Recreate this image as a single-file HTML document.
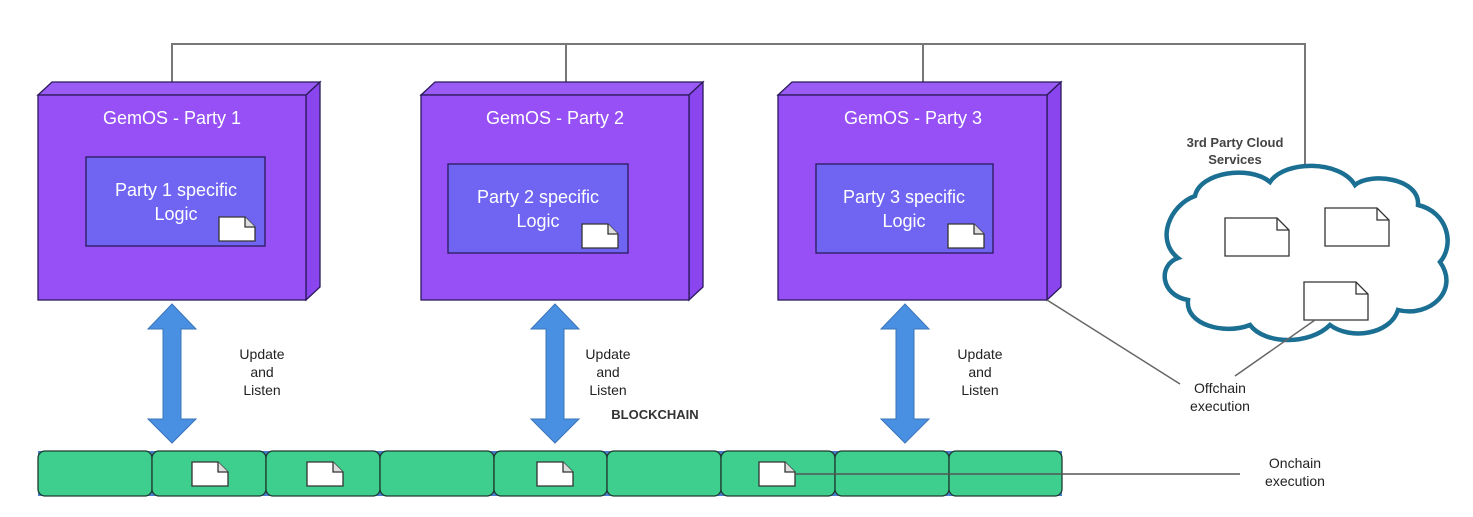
<!DOCTYPE html>
<html><head><meta charset="utf-8"><style>
html,body{margin:0;padding:0;background:#fff;width:1473px;height:517px;overflow:hidden}
svg{display:block}
text{font-family:"Liberation Sans",Arial,sans-serif}
</style></head><body>
<svg width="1473" height="517" viewBox="0 0 1473 517" xmlns="http://www.w3.org/2000/svg">
<defs>
<g id="doc"><path d="M0,0 H26 L36,10 V24 H0 Z" fill="#fff" stroke="#333" stroke-width="1.3"/><path d="M26,0 V10 H36" fill="#ddd" stroke="#333" stroke-width="1.3"/></g>
<g id="cdoc"><path d="M0,0 H52 L64,12 V38 H0 Z" fill="#fff" stroke="#333" stroke-width="1.3"/><path d="M52,0 V12 H64" fill="none" stroke="#333" stroke-width="1.3"/></g>
<path id="arr" d="M0,0 L24,25 H9 V115 H24 L0,139 L-24,115 H-9 V25 H-24 Z" fill="#4a90e2" stroke="#3a74b8" stroke-width="1"/>
</defs>
<!-- top connector -->
<path d="M172,82 V44 H1305 V170 M566,44 V82 M923,44 V82" fill="none" stroke="#777" stroke-width="2"/>
<!-- boxes -->
<g stroke="#2a1a5a" stroke-width="1.3">
<path d="M38,95 L52,82 H320 L306,95 Z" fill="#9b5cf5"/>
<path d="M306,95 L320,82 V287 L306,300 Z" fill="#8a45ee"/>
<rect x="38" y="95" width="268" height="205" fill="#9650f5"/>
<rect x="86" y="157" width="179" height="89" fill="#7065f2"/>
<path d="M421,95 L435,82 H703 L689,95 Z" fill="#9b5cf5"/>
<path d="M689,95 L703,82 V287 L689,300 Z" fill="#8a45ee"/>
<rect x="421" y="95" width="268" height="205" fill="#9650f5"/>
<rect x="448" y="164" width="180" height="89" fill="#7065f2"/>
<path d="M778,95 L792,82 H1061 L1047,95 Z" fill="#9b5cf5"/>
<path d="M1047,95 L1061,82 V287 L1047,300 Z" fill="#8a45ee"/>
<rect x="778" y="95" width="269" height="205" fill="#9650f5"/>
<rect x="816" y="164" width="177" height="89" fill="#7065f2"/>
</g>
<g fill="#fff" font-size="18" text-anchor="middle">
<text x="172" y="124">GemOS - Party 1</text>
<text x="555" y="124">GemOS - Party 2</text>
<text x="913" y="124">GemOS - Party 3</text>
<text x="176" y="196">Party 1 specific</text><text x="176" y="220">Logic</text>
<text x="538" y="203">Party 2 specific</text><text x="538" y="227">Logic</text>
<text x="904" y="203">Party 3 specific</text><text x="904" y="227">Logic</text>
</g>
<use href="#doc" x="219" y="217"/>
<use href="#doc" x="582" y="224"/>
<use href="#doc" x="948" y="224"/>
<!-- arrows -->
<use href="#arr" x="172" y="304"/>
<use href="#arr" x="555" y="304"/>
<use href="#arr" x="905" y="304"/>
<g font-size="14" fill="#222" text-anchor="middle">
<text x="262" y="359">Update</text><text x="262" y="377">and</text><text x="262" y="395">Listen</text>
<text x="608" y="359">Update</text><text x="608" y="377">and</text><text x="608" y="395">Listen</text>
<text x="980" y="359">Update</text><text x="980" y="377">and</text><text x="980" y="395">Listen</text>
<text x="1220" y="393">Offchain</text><text x="1220" y="411">execution</text>
<text x="1295" y="468">Onchain</text><text x="1295" y="486">execution</text>
</g>
<text x="655" y="419" font-size="13" font-weight="bold" fill="#333" text-anchor="middle">BLOCKCHAIN</text>
<!-- chain -->
<rect x="38" y="451" width="1024" height="45" fill="#4a7fd0"/>
<g fill="#3ecf8e" stroke="#1e3a2e" stroke-width="1.3">
<rect x="38" y="451" width="114" height="45" rx="7"/>
<rect x="152" y="451" width="114" height="45" rx="7"/>
<rect x="266" y="451" width="114" height="45" rx="7"/>
<rect x="380" y="451" width="114" height="45" rx="7"/>
<rect x="494" y="451" width="113" height="45" rx="7"/>
<rect x="607" y="451" width="114" height="45" rx="7"/>
<rect x="721" y="451" width="114" height="45" rx="7"/>
<rect x="835" y="451" width="114" height="45" rx="7"/>
<rect x="949" y="451" width="113" height="45" rx="7"/>
</g>
<use href="#doc" x="192" y="462"/>
<use href="#doc" x="307" y="462"/>
<use href="#doc" x="537" y="462"/>
<use href="#doc" x="759" y="462"/>
<line x1="795" y1="474" x2="1240" y2="474" stroke="#555" stroke-width="1.5"/>
<!-- cloud -->
<path d="M1195,196 C1200,172 1250,165 1270,182 C1285,160 1340,160 1355,185 C1370,172 1420,178 1418,205 C1448,212 1455,245 1440,262 C1460,290 1430,318 1398,310 C1390,335 1350,340 1330,325 C1310,345 1265,345 1250,325 C1225,335 1185,325 1188,300 C1160,295 1158,265 1178,258 C1155,240 1170,205 1195,196 Z" fill="#fff" stroke="#1b6f93" stroke-width="4.5"/>
<text x="1235" y="147" font-size="13" font-weight="bold" fill="#444" text-anchor="middle">3rd Party Cloud</text>
<text x="1235" y="164" font-size="13" font-weight="bold" fill="#444" text-anchor="middle">Services</text>
<use href="#cdoc" x="1225" y="218"/>
<use href="#cdoc" x="1325" y="208"/>
<use href="#cdoc" x="1304" y="282"/>
<path d="M1047,300 L1180,384 M1315,320 L1235,376" fill="none" stroke="#666" stroke-width="1.5"/>
</svg>
</body></html>
